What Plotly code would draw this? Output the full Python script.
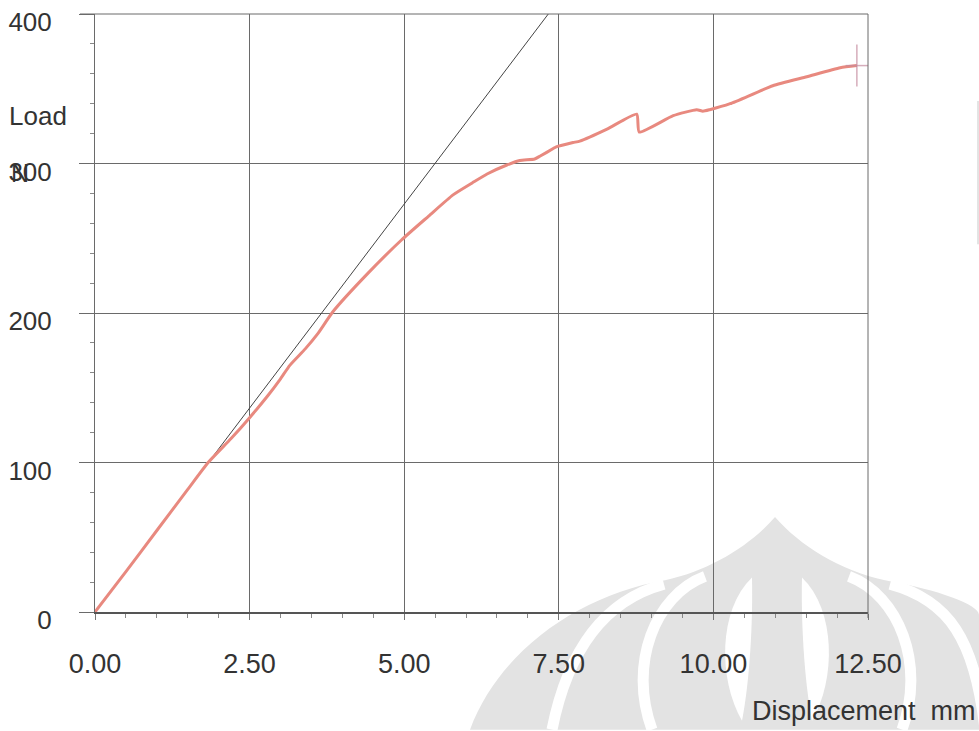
import plotly.graph_objects as go

# ---- data ----
displacement = [0, 0.5, 1.0, 1.5, 1.83, 2.2, 2.5, 2.8, 3.0, 3.15, 3.4, 3.6, 3.85, 4.4, 4.96,
                5.4, 5.79, 6.1, 6.34, 6.66, 6.87, 7.11, 7.2, 7.41, 7.45, 7.73, 7.84, 8.28,
                8.76, 8.80, 9.35, 9.73, 9.83, 9.94, 10.27, 10.96, 11.51, 12.05, 12.32]
load = [0, 27, 54.5, 82, 100, 116, 130, 145, 156, 165, 176, 186, 201, 226, 249,
        265, 279, 287, 293, 299, 302, 303, 305, 310, 311, 314, 315, 323,
        333, 321, 332, 336, 335, 336, 340, 352, 358, 364, 365.5]
stiffness_x = [0, 7.33]
stiffness_y = [0, 400]
end_x = [12.32]
end_y = [365.5]
x_ticks = [0, 2.5, 5.0, 7.5, 10.0, 12.5]
x_labels = ["0.00", "2.50", "5.00", "7.50", "10.00", "12.50"]
y_ticks = [0, 100, 200, 300, 400]
y_labels = ["0", "100", "200", "300", "400"]

W, H = 979, 731
L, R, T, B = 95, 111, 7, 119
PW, PH = W - L - R, H - T - B


def px(x, y):
    return (x - L) / PW, (H - B - y) / PH


def path(cmds):
    out = []
    for c in cmds:
        op = c[0]
        if op == "Z":
            out.append("Z")
            continue
        pts = []
        for (x, y) in c[1:]:
            a, b = px(x, y)
            pts.append(f"{a:.4f},{b:.4f}")
        out.append(op + " " + " ".join(pts))
    return " ".join(out)


GRAY = "#e3e3e3"
GRID = "#6a6a6a"
shapes = []
# watermark silhouette
shapes.append(dict(type="path", xref="paper", yref="paper", layer="below", line=dict(width=0),
                   fillcolor=GRAY,
                   path=path([("M", (470, 731)), ("C", (500, 650), (580, 595), (665, 580)),
                              ("C", (710, 570), (750, 545), (775, 516)),
                              ("C", (800, 545), (840, 570), (885, 580)),
                              ("C", (940, 590), (979, 605), (979, 615)),
                              ("L", (979, 731)), ("Z",)])))
# white gaps
for cmds in [
    [("M", (664, 584)), ("C", (605, 600), (568, 650), (552, 731))],
    [("M", (705, 576)), ("C", (655, 595), (628, 665), (652, 731))],
    [("M", (849, 576)), ("C", (899, 595), (926, 665), (902, 731))],
    [("M", (890, 584)), ("C", (949, 600), (975, 640), (985, 731))],
]:
    shapes.append(dict(type="path", xref="paper", yref="paper", layer="below",
                       line=dict(color="white", width=11), path=path(cmds)))
for cmds in [
    [("M", (752, 577)), ("C", (718, 610), (718, 680), (742, 722)), ("C", (750, 680), (753, 620), (752, 577)), ("Z",)],
    [("M", (802, 577)), ("C", (836, 610), (836, 680), (812, 722)), ("C", (804, 680), (801, 620), (802, 577)), ("Z",)],
]:
    shapes.append(dict(type="path", xref="paper", yref="paper", layer="below",
                       line=dict(width=0), fillcolor="white", path=path(cmds)))
# top and right frame lines (grid lines at the range ends)
shapes.append(dict(type="line", xref="paper", yref="paper", x0=px(80, 0)[0], x1=1, y0=1, y1=1,
                   line=dict(color=GRID, width=1)))
shapes.append(dict(type="line", xref="paper", yref="paper", x0=1, x1=1, y0=px(0, 618)[1], y1=1,
                   line=dict(color=GRID, width=1)))
# faint scan edge line at far right
a0, b0 = px(978, 95)
a1, b1 = px(978, 240)
shapes.append(dict(type="line", xref="paper", yref="paper", x0=a0, x1=a1, y0=b0, y1=b1,
                   line=dict(color="#c8c8c8", width=1)))

fig = go.Figure()
fig.add_trace(go.Scatter(x=stiffness_x, y=stiffness_y, mode="lines",
                         line=dict(color="#444444", width=1), showlegend=False,
                         hoverinfo="skip"))
fig.add_trace(go.Scatter(x=displacement, y=load, mode="lines",
                         line=dict(color="#e8897f", width=3, shape="spline", smoothing=0.5),
                         showlegend=False))
fig.add_trace(go.Scatter(x=end_x * 2, y=end_y * 2, mode="markers", showlegend=False,
                         marker=dict(symbol=["line-ns-open", "line-ew-open"], size=[30, 16],
                                     color="#c48a9e",
                                     line=dict(color="#c48a9e", width=1.5)),
                         cliponaxis=False))

font = "Liberation Sans, Arial, sans-serif"
fig.update_layout(
    width=W, height=H,
    margin=dict(l=L, r=R, t=T, b=B),
    paper_bgcolor="white", plot_bgcolor="rgba(0,0,0,0)",
    font=dict(family=font, color="#333333"),
    shapes=shapes,
    xaxis=dict(range=[0, 12.5], tickvals=x_ticks, ticktext=x_labels,
               tickfont=dict(size=27, color="#333333"),
               showgrid=True, gridcolor=GRID, gridwidth=1,
               zeroline=False, showline=True, linecolor="#555555", linewidth=1.5,
               ticks="outside", ticklen=6, tickcolor="#777777",
               ticklabelstandoff=21,
               minor=dict(dtick=0.5, ticks="outside", ticklen=4, tickcolor="#888888",
                          showgrid=False)),
    yaxis=dict(range=[0, 400], tickvals=y_ticks, ticktext=y_labels,
               tickfont=dict(size=26, color="#333333"),
               showgrid=True, gridcolor=GRID, gridwidth=1,
               zeroline=False, showline=True, linecolor=GRID, linewidth=1,
               ticks="outside", ticklen=15, tickcolor=GRID,
               ticklabelstandoff=22, ticklabelshift=8,
               minor=dict(dtick=20, ticks="outside", ticklen=4, tickcolor="#888888",
                          showgrid=False)),
    annotations=[
        dict(text="Load", xref="paper", yref="paper", x=px(7, 0)[0], y=px(0, 110)[1],
             xanchor="left", yanchor="middle", showarrow=False,
             font=dict(size=26, color="#333333", family=font)),
        dict(text="N", xref="paper", yref="paper", x=px(9, 0)[0], y=px(0, 168)[1],
             xanchor="left", yanchor="middle", showarrow=False,
             font=dict(size=25, color="#333333", family=font)),
        dict(text="Displacement  mm", xref="paper", yref="paper", x=px(978, 0)[0],
             y=px(0, 712)[1], xanchor="right", yanchor="middle", showarrow=False,
             font=dict(size=27, color="#333333", family=font)),
    ],
)

fig.write_html("out.html", config={"displayModeBar": False},
               post_script="document.body.style.margin='0';document.body.style.overflow='hidden';")
